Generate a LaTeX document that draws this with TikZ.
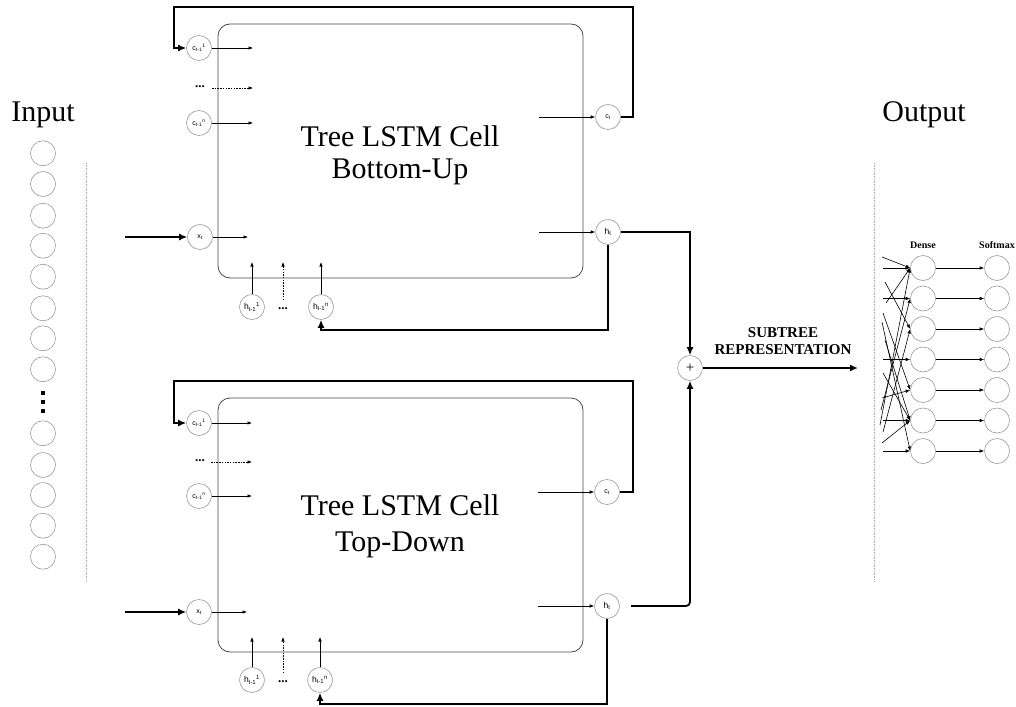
\documentclass[tikz,border=0pt]{standalone}
\usepackage{fontspec}
\setmainfont{Liberation Serif}
\setsansfont{Liberation Sans}
\usetikzlibrary{arrows.meta}
\definecolor{circgray}{HTML}{9A9A9A}
\definecolor{boxgray}{HTML}{4A4A4A}
\definecolor{dotgray}{HTML}{B0B0B0}
\begin{document}
\begin{tikzpicture}[x=1pt,y=-1pt,
  circ/.style={circle,draw=circgray,line width=0.6pt,minimum size=25pt,inner sep=0pt,font=\sffamily\fontsize{7}{8}\selectfont},
  hcirc/.style={circ,font=\sffamily\fontsize{8.5}{9}\selectfont},
  bigcirc/.style={circle,draw=circgray,line width=0.6pt,minimum size=25pt,inner sep=0pt},
  cellbox/.style={draw=boxgray,line width=0.8pt,rounded corners=12pt,minimum width=365pt,minimum height=254pt,inner sep=0pt},
  thinarr/.style={line width=0.6pt,-{Latex[length=4.5pt,width=3.5pt]}},
  dasharr/.style={thinarr,dash pattern=on 1.5pt off 1.2pt},
  thk/.style={line width=1.8pt},
  thkarr/.style={thk,-{Latex[length=8pt,width=7pt]}},
  title/.style={font=\fontsize{30}{32}\selectfont,inner sep=0pt},
  small/.style={font=\bfseries\fontsize{10}{11}\selectfont,inner sep=0pt},
  dots/.style={font=\bfseries\fontsize{13}{13}\selectfont,inner sep=0pt},
  sep/.style={draw=dotgray,densely dotted,line width=0.6pt}
]
\useasboundingbox (0,0) rectangle (1016,706);

% ---------- Input column ----------
\node[title] (inlbl) at (43,115) {Input};
\foreach \i/\y in {1/153.3,2/184,3/215.7,4/245.7,5/276.7,6/308.3,7/338.3,8/369.3,9/433.3,10/465,11/495,12/525.7,13/556.7}
  \node[bigcirc] (in\i) at (43,\y) {};
\fill (41.3,391.3) rectangle (44.7,394.7);
\fill (41.3,400.3) rectangle (44.7,403.7);
\fill (41.3,409.3) rectangle (44.7,412.7);
\coordinate (sepLa) at (86,163);
\coordinate (sepLb) at (86,582);
\draw[sep] (sepLa) -- (sepLb);

% ---------- Output column ----------
\node[title] (outlbl) at (924,115) {Output};
\coordinate (sepRa) at (874,163);
\coordinate (sepRb) at (874,582);
\draw[sep] (sepRa) -- (sepRb);
\node[small] (denselbl) at (923,245) {Dense};
\node[small] (softlbl) at (997,245) {Softmax};
\foreach \i/\y in {1/268,2/298.5,3/329,4/359.5,5/390,6/420.5,7/451}{
  \node[bigcirc] (d\i) at (923,\y) {};
  \node[bigcirc] (s\i) at (997,\y) {};
  \draw[thinarr] (d\i) -- (s\i);
}
\foreach \i in {1,2,4,6,7}{
  \coordinate (hin\i) at (883,0);
  \draw[thinarr] (d\i.west -| hin\i) -- (d\i.west);
}
\foreach \sx/\sy/\tg in {882/257/1, 886/303/1, 885/282/3, 883/313/5, 885/340/6, 882/322/7, 883/373/6, 881/410/2, 883/432/3, 882/398/5, 882/443/6, 880/425/1}{
  \coordinate (dl) at (\sx,\sy);
  \draw[thinarr] (dl) -- (d\tg.west);
}

% ---------- Top cell (Bottom-Up) ----------
\node[cellbox] (cellA) at (400.5,151) {};
\node[title] (tA1) at (400,136) {Tree LSTM Cell};
\node[title] (tA2) at (400,172) {Bottom-Up};

\node[circ] (cA1) at (199,48) {c\textsubscript{t-1}\textsuperscript{1}};
\node[dots] (cAd) at (200,87) {...};
\node[circ] (cAn) at (199,123) {c\textsubscript{t-1}\textsuperscript{n}};
\node[circ] (xA) at (200,237) {x\textsubscript{t}};
\coordinate (cA1e) at (253,48);
\coordinate (cAde) at (253,88);
\coordinate (cAds) at (212,88);
\coordinate (cAne) at (253,123);
\coordinate (xAe) at (248,237);
\coordinate (xAin) at (125,237);
\draw[thinarr] (cA1) -- (cA1e);
\draw[dasharr] (cAds) -- (cAde);
\draw[thinarr] (cAn) -- (cAne);
\draw[thinarr] (xA) -- (xAe);
\draw[thkarr] (xAin) -- (xA);

\node[hcirc] (hA1) at (252,307) {h\textsubscript{t-1}\textsuperscript{1}};
\node[dots] (hAd) at (283,309) {...};
\node[hcirc] (hAn) at (321,307) {h\textsubscript{t-1}\textsuperscript{n}};
\coordinate (hA1e) at (252,262);
\coordinate (hAde) at (283,262);
\coordinate (hAds) at (283,300);
\coordinate (hAne) at (321,262);
\draw[thinarr] (hA1) -- (hA1e);
\draw[dasharr] (hAds) -- (hAde);
\draw[thinarr] (hAn) -- (hAne);

\node[circ] (cAt) at (608,117) {c\textsubscript{t}};
\node[hcirc] (hAt) at (608,232) {h\textsubscript{t}};
\coordinate (cAts) at (539,117);
\coordinate (hAts) at (539,232);
\draw[thinarr] (cAts) -- (cAt);
\draw[thinarr] (hAts) -- (hAt);

\coordinate (loopA1) at (633,7);
\coordinate (loopA2) at (174,7);
\draw[thkarr] (cAt.east) -| (loopA1) -- (loopA2) |- (cA1.west);
\coordinate (fbA) at (608,330);
\draw[thkarr] (hAt.south) -- (fbA) -| (hAn.south);

% ---------- Bottom cell (Top-Down) ----------
\node[cellbox] (cellB) at (400.5,525) {};
\node[title] (tB1) at (400,505) {Tree LSTM Cell};
\node[title] (tB2) at (400,545) {Top-Down};

\node[circ] (cB1) at (199,423) {c\textsubscript{t-1}\textsuperscript{1}};
\node[dots] (cBd) at (200,461) {...};
\node[circ] (cBn) at (199,496) {c\textsubscript{t-1}\textsuperscript{n}};
\node[circ] (xB) at (199,612) {x\textsubscript{t}};
\coordinate (cB1e) at (252,423);
\coordinate (cBde) at (252,462);
\coordinate (cBds) at (211,462);
\coordinate (cBne) at (252,496);
\coordinate (xBe) at (247,612);
\coordinate (xBin) at (125,612);
\draw[thinarr] (cB1) -- (cB1e);
\draw[dasharr] (cBds) -- (cBde);
\draw[thinarr] (cBn) -- (cBne);
\draw[thinarr] (xB) -- (xBe);
\draw[thkarr] (xBin) -- (xB);

\node[hcirc] (hB1) at (252,680) {h\textsubscript{t-1}\textsuperscript{1}};
\node[dots] (hBd) at (283,682) {...};
\node[hcirc] (hBn) at (320,680) {h\textsubscript{t-1}\textsuperscript{n}};
\coordinate (hB1e) at (252,637);
\coordinate (hBde) at (283,637);
\coordinate (hBds) at (283,673);
\coordinate (hBne) at (320,637);
\draw[thinarr] (hB1) -- (hB1e);
\draw[dasharr] (hBds) -- (hBde);
\draw[thinarr] (hBn) -- (hBne);

\node[circ] (cBt) at (607,492) {c\textsubscript{t}};
\node[hcirc] (hBt) at (607,606) {h\textsubscript{t}};
\coordinate (cBts) at (538,492);
\coordinate (hBts) at (538,606);
\draw[thinarr] (cBts) -- (cBt);
\draw[thinarr] (hBts) -- (hBt);

\coordinate (loopB1) at (633,381);
\coordinate (loopB2) at (174,381);
\draw[thkarr] (cBt.east) -| (loopB1) -- (loopB2) |- (cB1.west);
\coordinate (fbB) at (607,704);
\draw[thkarr] (hBt.south) -- (fbB) -| (hBn.south);

% ---------- Merge ----------
\node[bigcirc,font=\fontsize{15}{15}\selectfont] (plus) at (690,368) {+};
\draw[thkarr] (hAt.east) -| (plus.north);
\coordinate (hBgap) at (631,606);
\draw[thkarr,rounded corners=4pt] (hBgap) -| (plus.south);
\coordinate (outp) at (858,368);
\draw[thkarr] (plus) -- (outp);
\node[font=\bfseries\fontsize{15}{17}\selectfont,align=center,inner sep=0pt] (sublbl) at (783,341) {SUBTREE\\REPRESENTATION};
\end{tikzpicture}
\end{document}
